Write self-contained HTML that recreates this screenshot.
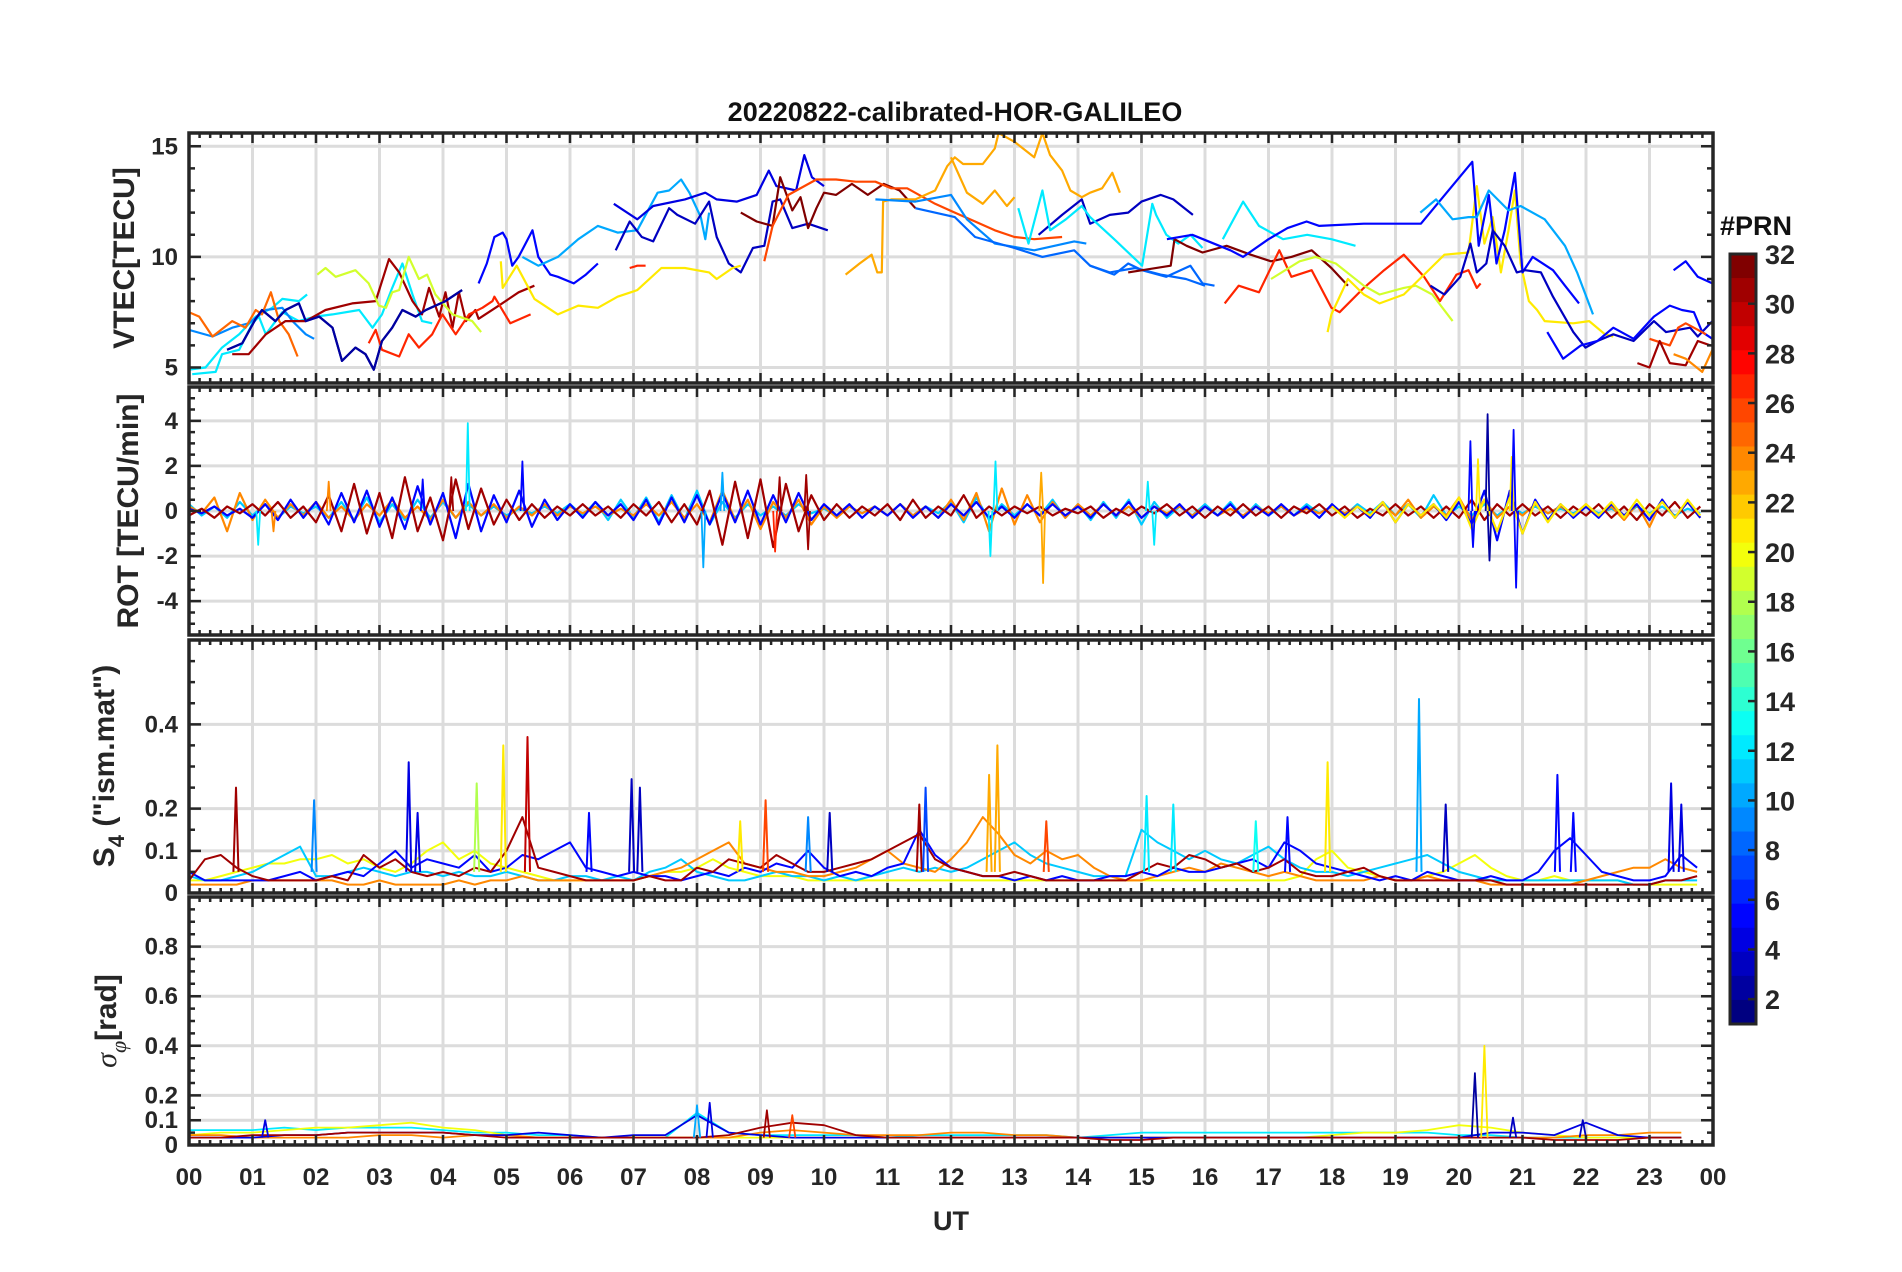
<!DOCTYPE html>
<html><head><meta charset="utf-8">
<style>
html,body{margin:0;padding:0;background:#fff;}
svg{display:block;font-family:"Liberation Sans",Arial,sans-serif;}
</style></head>
<body>
<svg id="fig" width="1902" height="1272" viewBox="0 0 1902 1272" xmlns="http://www.w3.org/2000/svg">
<rect width="1902" height="1272" fill="#fff"/>
<text x="955" y="121" text-anchor="middle" font-size="27" font-weight="bold" fill="#111">20220822-calibrated-HOR-GALILEO</text>
<g id="panels"></g>
<text transform="translate(134,258) rotate(-90)" text-anchor="middle" font-size="30" font-weight="bold" fill="#262626">VTEC[TECU]</text>
<text transform="translate(138,511) rotate(-90)" text-anchor="middle" font-size="30" font-weight="bold" fill="#262626">ROT [TECU/min]</text>
<text transform="translate(114,766) rotate(-90)" text-anchor="middle" font-size="30" font-weight="bold" fill="#262626">S<tspan font-size="22" dy="10">4</tspan><tspan dy="-10"> ("ism.mat")</tspan></text>
<text transform="translate(116,1021) rotate(-90)" text-anchor="middle" font-size="30" font-weight="bold" fill="#262626"><tspan font-family="'Liberation Serif',serif" font-style="italic" font-weight="normal">σ</tspan><tspan font-size="22" dy="10" font-family="'Liberation Serif',serif" font-style="italic" font-weight="normal">φ</tspan><tspan dy="-10">[rad]</tspan></text>
<text x="951" y="1230" text-anchor="middle" font-size="27" font-weight="bold" fill="#262626">UT</text>
<g id="cbar"></g>
</svg>
<script>
// ---------- VTEC tracks [hour, TECU] ----------
const vtecPrn = [12,12,9,25,2,31,27,19,5,10,4,3,21,27,32,26,23,23,9,8,3,12,2,12,8,32,27,19,21,5,10,3,5,5,26,31,24];
const vtecCyanA = [[0,4.9],[0.26,5.0],[0.52,5.9],[0.79,6.5],[1.05,7.3],[1.31,7.7],[1.47,8.1],[1.73,8.0],[1.86,8.3]];
const vtecCyanB = [[0.05,4.7],[0.42,4.8],[0.52,5.6],[0.79,5.8],[1.0,7.0],[1.1,7.3],[1.21,6.5],[1.47,7.5],[1.73,7.1],[1.99,7.3],[2.26,7.4],[2.68,7.6],[2.89,6.8],[3.04,7.4],[3.2,8.6],[3.36,9.7],[3.52,8.3],[3.67,7.1],[3.83,7.0]];
const vtecBlue9 = [[0,6.7],[0.37,6.4],[0.68,6.8],[0.94,7.0],[1.21,7.6],[1.47,7.7],[1.63,7.1],[1.84,6.5],[1.97,6.3]];
const vtecOrange25 = [[0,7.5],[0.16,7.3],[0.37,6.4],[0.68,7.1],[0.89,6.8],[1.05,7.6],[1.15,7.4],[1.29,8.4],[1.42,7.1],[1.57,6.5],[1.71,5.5]];
const vtecDark2 = [[0.6,5.8],[0.84,6.1],[1.05,7.2],[1.15,7.6],[1.36,7.1],[1.52,7.6],[1.73,7.9],[1.84,7.1],[2.05,7.3],[2.26,6.8],[2.41,5.3],[2.62,5.9],[2.78,5.6],[2.91,4.9],[3.04,6.2],[3.2,6.8],[3.36,7.6],[3.57,7.3],[3.73,7.6],[4.04,8.0],[4.3,8.5]];
const vtecDarkRed31 = [[0.68,5.6],[0.94,5.6],[1.21,6.5],[1.52,7.1],[1.84,7.1],[2.15,7.6],[2.57,7.9],[2.94,8.0],[3.15,9.9],[3.31,9.3],[3.52,8.0],[3.67,7.4],[3.78,8.6],[3.94,7.3],[4.04,8.4],[4.15,6.8],[4.25,8.4],[4.36,7.1],[4.51,7.6],[4.56,7.2],[4.88,7.8],[5.19,8.4],[5.44,8.7]];
const vtecRed27 = [[2.83,6.1],[2.94,6.7],[3.04,5.8],[3.31,5.5],[3.46,6.5],[3.62,5.9],[3.83,6.5],[3.99,7.4],[4.2,6.5],[4.41,7.4],[4.62,7.7],[4.78,8.0],[4.81,8.2],[5.06,7.0],[5.38,7.4]];
const vtecYG19 = [[2.02,9.2],[2.15,9.5],[2.31,9.1],[2.62,9.4],[2.83,8.8],[2.99,7.8],[3.1,7.7],[3.2,8.4],[3.31,8.5],[3.46,10.0],[3.62,9.0],[3.75,9.2],[3.88,8.3],[4.15,7.4],[4.46,7.1],[4.6,6.6]];
const vtecBlue5 = [[4.56,8.8],[4.69,9.7],[4.81,10.9],[4.94,11.1],[5.0,10.8],[5.09,9.6],[5.19,10.0],[5.41,11.2],[5.5,10.0],[5.69,9.2],[5.81,9.1],[6.06,8.8],[6.25,9.2],[6.44,9.7]];
const vtecLB10 = [[5.25,10.0],[5.5,9.6],[5.81,10.0],[6.13,10.8],[6.44,11.4],[6.75,11.1],[7.06,11.2],[7.38,12.9],[7.56,13.0],[7.75,13.5],[7.88,12.9],[8.06,11.8],[8.13,10.8],[8.19,12.0]];
const vtecBlue4 = [[6.69,12.4],[7.06,11.7],[7.31,12.3],[7.81,12.6],[8.13,12.9],[8.31,12.6],[8.63,12.5],[8.94,12.8],[9.13,13.9],[9.25,13.2],[9.56,13.0],[9.69,14.6],[9.81,13.6],[10.0,13.2]];
const vtecDark3 = [[6.72,10.3],[6.94,11.6],[7.13,10.9],[7.31,10.7],[7.56,12.2],[7.69,11.9],[7.97,11.5],[8.19,12.5],[8.31,10.9],[8.5,9.7],[8.69,9.3],[8.88,10.4],[9.06,10.5],[9.19,12.5],[9.31,12.6],[9.5,11.3],[9.75,11.5],[10.06,11.2]];
const vtecYellow21 = [[4.91,9.8],[4.94,8.6],[5.16,9.6],[5.44,8.1],[5.81,7.4],[6.13,7.8],[6.44,7.7],[6.75,8.2],[7.06,8.5],[7.44,9.5],[7.81,9.5],[8.19,9.3],[8.31,9.0],[8.56,9.5],[8.69,9.6]];
const vtecRedShort = [[6.94,9.5],[7.06,9.6],[7.19,9.6]];
const vtecDarkRed32 = [[8.69,12.0],[8.94,11.6],[9.19,11.4],[9.31,13.6],[9.5,12.1],[9.63,12.7],[9.75,11.3],[9.88,12.2],[10.0,12.9],[10.19,12.8],[10.44,13.3],[10.69,12.8],[10.94,13.3],[11.19,13.0],[11.44,12.2]];
const vtecOR26 = [[9.06,9.8],[9.19,11.4],[9.44,12.8],[9.88,13.5],[10.19,13.5],[10.5,13.4],[10.81,13.4],[11.06,13.1],[11.31,13.1],[11.75,12.4],[12.06,12.0],[12.38,11.6],[12.69,11.2],[13.0,10.9],[13.31,10.8],[13.75,10.9]];
const vtecOrange23 = [[10.34,9.2],[10.56,9.7],[10.75,10.1],[10.84,9.3],[10.91,9.3],[10.93,12.5],[11.06,12.6],[11.44,12.6],[11.75,13.0],[11.94,14.1],[12.06,14.5],[12.19,14.2],[12.5,14.2],[12.69,14.9],[12.75,15.6],[13.0,15.2],[13.31,14.5],[13.44,15.6],[13.56,14.6],[13.75,13.9],[13.88,13.0],[14.06,12.7],[14.19,12.9],[14.38,13.1],[14.54,13.8],[14.66,12.9]];
const vtecOrange23b = [[12.0,14.5],[12.25,12.9],[12.5,12.4],[12.69,13.0],[12.88,12.3],[13.0,12.7]];
const vtecLB9 = [[10.81,12.6],[11.44,12.5],[12.0,12.8],[12.25,11.7],[12.69,10.6],[13.31,10.3],[13.94,10.7],[14.13,10.6]];
const vtecB8 = [[11.44,12.2],[12.06,11.8],[12.38,10.9],[13.0,10.4],[13.44,10.0],[13.94,10.3],[14.19,9.6],[14.57,9.2],[14.79,9.7],[15.01,9.4],[15.39,9.1],[15.77,9.6],[15.96,8.8],[16.15,8.7]];
const vtecDark3b = [[13.38,11.0],[13.75,11.9],[14.06,12.6],[14.19,11.5],[14.5,11.9],[14.79,12.0],[15.0,12.5],[15.3,12.8],[15.5,12.6],[15.81,11.9]];
const vtecCyan12 = [[13.06,12.2],[13.22,10.6],[13.44,13.0],[13.56,11.2],[13.81,11.7],[14.06,12.3],[14.19,11.8],[14.57,10.8],[15.01,9.6],[15.17,12.4],[15.23,11.9],[15.39,11.0],[15.58,10.6],[15.77,11.0],[15.96,10.4]];
const vtecCyan12b = [[16.28,10.8],[16.6,12.5],[16.85,11.4],[17.23,10.8],[17.61,11.0],[17.99,10.8],[18.37,10.5]];
const vtecBlue8b = [[14.19,9.6],[14.5,9.3],[14.9,9.5],[15.3,9.2],[15.7,9.0],[16.0,8.7]];
const vtecDarkRed32b = [[14.79,9.3],[15.46,9.6],[15.52,10.8],[15.71,10.5],[15.96,10.2],[16.34,10.5],[16.72,10.1],[17.04,9.8],[17.36,10.0],[17.68,10.3],[17.99,9.5],[18.25,8.7]];
const vtecRed27b = [[16.31,7.9],[16.53,8.7],[16.85,8.4],[17.17,10.3],[17.36,9.1],[17.68,9.4],[17.99,7.7],[18.12,7.5],[18.5,8.6],[18.82,9.4],[19.13,10.1],[19.45,9.1],[19.7,8.0],[19.96,9.2],[20.15,9.4],[20.28,8.6],[20.34,8.8]];
const vtecYG19b = [[17.04,9.0],[17.49,9.8],[17.74,10.0],[18.06,9.7],[18.5,8.7],[18.75,8.3],[19.13,8.6],[19.32,8.7],[19.58,8.3],[19.9,7.1]];
const vtecYellow21b = [[17.93,6.6],[17.99,7.4],[18.25,9.0],[18.5,8.3],[18.75,7.9],[19.13,8.3],[19.45,9.2],[19.77,10.1],[20.15,10.2],[20.28,13.2],[20.4,10.6],[20.53,11.8],[20.66,9.3],[20.78,11.2],[20.88,13.0],[20.97,9.7],[21.1,8.0],[21.23,7.6],[21.35,7.1],[21.8,7.0],[22.05,7.1],[22.3,6.5],[22.43,6.4]];
const vtecLB10b = [[19.39,12.0],[19.64,12.6],[19.9,11.7],[20.15,11.8],[20.28,11.8],[20.47,13.0],[20.78,12.1],[20.97,12.3],[21.35,11.7],[21.67,10.5],[21.86,9.3],[22.11,7.4]];
const vtecDark3c = [[19.55,8.7],[19.77,8.3],[20.02,9.1],[20.18,10.6],[20.28,9.3],[20.43,9.7],[20.53,11.2],[20.72,10.5],[20.91,9.3],[21.04,9.4],[21.29,9.3],[21.48,8.2],[21.8,6.6],[21.99,5.9],[22.18,6.2],[22.43,6.5],[22.75,6.2],[23.07,7.1],[23.26,6.6],[23.64,6.8],[23.76,6.4],[23.99,7.1]];
const vtecBlue5b = [[15.4,10.8],[15.8,11.0],[16.4,10.3],[16.6,10.0],[17.0,10.8],[17.3,11.3],[17.6,11.6],[17.8,11.4],[18.5,11.5],[19.4,11.5],[20.21,14.3],[20.31,10.5],[20.47,12.8],[20.59,9.7],[20.72,11.2],[20.88,13.8],[21.0,9.3],[21.16,10.0],[21.48,9.4],[21.67,8.7],[21.89,7.9]];
const vtecBlue5c = [[23.38,9.4],[23.57,9.8],[23.76,9.1],[23.99,8.8]];
const vtecBlue6 = [[21.39,6.6],[21.64,5.4],[21.92,6.0],[22.18,6.2],[22.43,6.8],[22.75,6.3],[23.07,7.3],[23.32,7.8],[23.51,7.6],[23.7,7.5],[23.83,6.6],[23.99,6.3]];
const vtecOR26b = [[23.0,6.3],[23.32,6.0],[23.45,6.8],[23.57,7.0],[23.7,6.8],[23.89,6.5]];
const vtecDarkRed31b = [[22.81,5.2],[23.0,5.0],[23.16,6.2],[23.32,5.2],[23.57,5.1],[23.76,6.2],[23.96,6.0]];
const vtecOrange24 = [[23.38,5.6],[23.57,5.4],[23.83,4.8],[23.99,5.8]];
const vtecTracks = [vtecCyanA,vtecCyanB,vtecBlue9,vtecOrange25,vtecDark2,vtecDarkRed31,vtecRed27,vtecYG19,vtecBlue5,vtecLB10,vtecBlue4,vtecDark3,vtecYellow21,vtecRedShort,vtecDarkRed32,vtecOR26,vtecOrange23,vtecOrange23b,vtecLB9,vtecB8,vtecDark3b,vtecCyan12,vtecDark2,vtecCyan12b,vtecBlue8b,vtecDarkRed32b,vtecRed27b,vtecYG19b,vtecYellow21b,vtecBlue5b,vtecLB10b,vtecDark3c,vtecBlue5c,vtecBlue6,vtecOR26b,vtecDarkRed31b,vtecOrange24];

// ---------- ROT series (TECU/min), sampled every 0.2 h from 00 UT ----------
const rotStep = 0.2;
const rotPrn = [11,24,5,31];
const rotCyan = [0.3,-0.2,0.2,-0.3,0.4,-0.2,0.3,-0.3,0.2,-0.1, 0.2,-0.3,0.4,-0.4,0.6,-0.5,0.3,-0.4,0.5,-0.3, 0.4,-0.3,0.3,-0.2,0.2,-0.2,0.1,-0.1,0.2,-0.1, 0.3,-0.2,0.4,-0.4,0.5,-0.3,0.6,-0.5,0.7,-0.4, 0.9,-0.6,0.4,-0.3,0.3,-0.2,0.2,-0.2,0.3,-0.1, 0.1,-0.2,0.2,-0.1,0.2,-0.2,0.3,-0.2,0.2,-0.1, 0.4,-0.5,0.6,-0.4,0.3,-0.2,0.3,-0.2,0.5,-0.3, 0.3,-0.4,0.4,-0.3,0.5,-0.6,0.4,-0.3,0.2,-0.2, 0.3,-0.2,0.4,-0.3,0.3,-0.2,0.2,-0.2,0.3,-0.1, 0.2,-0.2,0.3,-0.1,0.4,-0.2,0.3,-0.3,0.7,-0.2, 0.2,-0.2,0.3,-0.2,0.2,-0.1,0.2,-0.1,0.1,-0.1, 0.2,-0.1,0.1,-0.2,0.2,-0.1,0.2,-0.2,0.1,-0.1];
const rotOrange = [0.2,-0.1,0.6,-0.9,0.8,-0.4,0.5,-0.3,0.3,-0.2, 0.4,-0.3,0.2,-0.4,0.3,-0.2,0.5,-0.3,0.2,-0.4, 0.5,-0.3,0.4,-0.2,0.3,-0.3,0.2,-0.2,0.3,-0.2, 0.2,-0.1,0.2,-0.2,0.1,-0.2,0.3,-0.2,0.4,-0.3, 0.3,-0.5,0.9,-0.4,0.5,-0.8,0.4,-0.3,0.5,-0.6, 0.2,-0.3,0.2,-0.1,0.2,-0.2,0.3,-0.2,0.2,-0.3, 0.5,-0.4,0.8,-0.9,1.0,-0.6,0.7,-0.5,0.4,-0.3, 0.3,-0.2,0.3,-0.2,0.2,-0.3,0.2,-0.1,0.2,-0.2, 0.2,-0.2,0.1,-0.2,0.2,-0.1,0.2,-0.2,0.1,-0.1, 0.2,-0.1,0.2,-0.2,0.3,-0.2,0.5,-0.3,0.2,-0.2, 0.6,-0.4,0.5,-0.3,0.2,-0.2,0.3,-0.1,0.2,-0.2, 0.3,-0.2,0.2,-0.4,0.3,-0.7,0.5,-0.3,0.4,-0.3];
const rotBlue = [0.1,-0.1,0.2,-0.2,0.1,-0.3,0.3,-0.4,0.5,-0.3, 0.4,-0.6,0.8,-0.5,0.9,-0.7,0.6,-0.8,1.1,-0.6, 0.8,-1.2,1.2,-0.9,0.7,-0.5,0.9,-0.7,0.5,-0.4, 0.3,-0.3,0.4,-0.2,0.3,-0.4,0.5,-0.6,0.6,-0.5, 0.7,-0.6,0.8,-0.5,0.9,-0.6,0.7,-0.5,0.8,-0.4, 0.3,-0.2,0.3,-0.3,0.2,-0.2,0.3,-0.3,0.2,-0.3, 0.3,-0.2,0.4,-0.3,0.2,-0.3,0.3,-0.2,0.3,-0.2, 0.2,-0.3,0.3,-0.2,0.4,-0.3,0.2,-0.2,0.3,-0.3, 0.2,-0.2,0.3,-0.3,0.2,-0.2,0.3,-0.2,0.2,-0.3, 0.3,-0.2,0.2,-0.3,0.4,-0.5,0.3,-0.2,0.3,-0.4, 0.4,-0.6,0.9,-1.3,0.9,-1.0,0.5,-0.4,0.3,-0.3, 0.2,-0.3,0.3,-0.2,0.3,-0.4,0.5,-0.3,0.4,-0.3];
const rotDarkRed = [-0.2,0.1,-0.3,0.2,-0.1,0.3,-0.2,0.4,-0.3,0.2, -0.5,0.7,-0.9,1.2,-1.0,0.8,-1.2,1.5,-0.9,0.6, -1.3,1.4,-0.8,1.0,-0.6,0.5,-0.4,0.3,-0.3,0.2, -0.2,0.3,-0.2,0.2,-0.3,0.3,-0.2,0.4,-0.5,0.3, -0.6,0.9,-1.5,1.3,-1.2,1.4,-1.6,1.2,-0.9,0.7, -0.4,0.3,-0.3,0.2,-0.2,0.3,-0.4,0.5,-0.3,0.2, -0.2,0.7,-0.3,0.2,-0.2,0.2,-0.1,0.2,-0.2,0.1, -0.1,0.2,-0.3,0.1,-0.2,0.2,-0.1,0.3,-0.2,0.2, -0.3,0.2,-0.2,0.3,-0.2,0.2,-0.3,0.2,-0.1,0.3, -0.2,0.2,-0.3,0.1,-0.2,0.3,-0.2,0.2,-0.3,0.2, -0.3,0.5,-0.4,0.3,-0.2,0.3,-0.2,0.2,-0.3,0.2, -0.2,0.3,-0.3,0.2,-0.4,0.3,-0.2,0.4,-0.3,0.2];
const rotYellowStart = 18;
const rotYellow = [0.2,-0.3,0.2,-0.2,0.4,-0.5,0.3,-0.2,0.3,-0.3, 0.6,-0.8,0.5,-0.9,0.6,-1.0,0.4,-0.5,0.3,-0.2, 0.3,-0.2,0.4,-0.3,0.5,-0.2,0.4,-0.3,0.5,-0.2];
const rotSpikeHours = [1.09,1.33,2.2,3.68,4.13,4.39,5.25,8.1,8.4,9.23,9.3,9.72,9.75,12.62,12.7,13.42,13.45,15.1,15.2,20.18,20.22,20.3,20.45,20.48,20.83,20.86,20.9];
const rotSpikeValues = [-1.5,-0.9,1.3,1.4,1.5,3.9,2.2,-2.5,1.7,-1.8,1.5,1.6,-1.7,-2.0,2.2,1.7,-3.2,1.3,-1.5,3.1,-1.6,2.3,4.3,-2.2,2.4,3.6,-3.4];
const rotSpikePrn = [12,24,24,5,31,12,5,10,10,27,31,31,31,12,12,23,23,12,12,5,5,21,2,2,21,5,5];

// ---------- S4 series, sampled every 0.25 h ----------
const s4Step = 0.25;
const s4Prn = [20,11,24,5,31];
const s4Yellow = [0.03,0.03,0.04,0.05,0.06,0.07,0.07,0.08, 0.08,0.09,0.07,0.08,0.06,0.05,0.07,0.10, 0.12,0.08,0.10,0.07,0.06,0.05,0.04,0.03, 0.03,0.03,0.03,0.03,0.03,0.04,0.05,0.05, 0.06,0.08,0.06,0.05,0.04,0.04,0.04,0.03, 0.03,0.03,0.03,0.03,0.03,0.03,0.03,0.03, 0.03,0.03,0.03,0.03,0.03,0.03,0.03,0.03, 0.03,0.03,0.03,0.03,0.03,0.03,0.03,0.03, 0.03,0.03,0.03,0.03,0.03,0.03,0.04,0.08, 0.10,0.06,0.05,0.04,0.03,0.03,0.04,0.05, 0.07,0.09,0.06,0.04,0.03,0.03,0.04,0.03, 0.03,0.03,0.03,0.02,0.02,0.02,0.02,0.02];
const s4Cyan = [0.04,0.03,0.03,0.04,0.05,0.07,0.09,0.11, 0.04,0.04,0.05,0.06,0.05,0.04,0.05,0.05, 0.04,0.05,0.04,0.04,0.05,0.04,0.03,0.03, 0.04,0.04,0.03,0.04,0.03,0.05,0.06,0.08, 0.05,0.04,0.03,0.03,0.04,0.05,0.04,0.04, 0.03,0.04,0.03,0.04,0.05,0.06,0.05,0.06, 0.05,0.06,0.08,0.10,0.12,0.09,0.07,0.06, 0.05,0.04,0.04,0.04,0.15,0.12,0.10,0.08, 0.10,0.08,0.07,0.09,0.11,0.08,0.06,0.05, 0.05,0.04,0.05,0.06,0.07,0.08,0.09,0.07, 0.05,0.04,0.03,0.03,0.03,0.03,0.03,0.03, 0.03,0.03,0.03,0.02,0.02,0.03,0.03,0.03];
const s4Orange = [0.02,0.02,0.02,0.02,0.03,0.03,0.03,0.03, 0.03,0.03,0.02,0.02,0.03,0.02,0.02,0.02, 0.02,0.03,0.02,0.03,0.03,0.04,0.03,0.03, 0.03,0.03,0.03,0.03,0.03,0.04,0.05,0.06, 0.08,0.10,0.12,0.07,0.06,0.05,0.05,0.04, 0.04,0.05,0.06,0.08,0.10,0.07,0.06,0.05, 0.08,0.12,0.18,0.14,0.09,0.07,0.10,0.08, 0.09,0.06,0.04,0.03,0.03,0.04,0.05,0.06, 0.05,0.07,0.06,0.05,0.04,0.05,0.04,0.03, 0.03,0.03,0.03,0.04,0.03,0.03,0.04,0.03, 0.03,0.03,0.02,0.02,0.02,0.02,0.02,0.02, 0.03,0.04,0.05,0.06,0.06,0.08,0.06,0.05];
const s4Blue = [0.05,0.03,0.03,0.03,0.03,0.03,0.04,0.05, 0.03,0.04,0.05,0.04,0.07,0.10,0.06,0.08, 0.07,0.06,0.09,0.05,0.06,0.09,0.08,0.10, 0.12,0.06,0.05,0.04,0.05,0.04,0.04,0.03, 0.04,0.05,0.04,0.06,0.05,0.07,0.06,0.10, 0.06,0.04,0.05,0.04,0.06,0.07,0.15,0.09, 0.06,0.05,0.04,0.04,0.03,0.04,0.03,0.04, 0.03,0.03,0.04,0.04,0.05,0.04,0.06,0.05, 0.05,0.06,0.07,0.08,0.06,0.12,0.10,0.07, 0.06,0.05,0.04,0.03,0.04,0.03,0.05,0.04, 0.03,0.03,0.04,0.03,0.03,0.05,0.10,0.13, 0.09,0.05,0.04,0.03,0.03,0.04,0.09,0.06];
const s4DarkRed = [0.03,0.08,0.09,0.06,0.04,0.03,0.03,0.03, 0.03,0.04,0.03,0.09,0.06,0.08,0.05,0.04, 0.05,0.04,0.06,0.05,0.10,0.18,0.06,0.05, 0.04,0.03,0.03,0.03,0.03,0.04,0.03,0.03, 0.06,0.05,0.08,0.07,0.06,0.09,0.07,0.05, 0.05,0.06,0.07,0.08,0.10,0.12,0.14,0.08, 0.06,0.05,0.04,0.04,0.05,0.04,0.03,0.03, 0.03,0.03,0.03,0.03,0.05,0.07,0.06,0.09, 0.08,0.06,0.07,0.05,0.06,0.08,0.05,0.04, 0.04,0.05,0.06,0.04,0.03,0.03,0.03,0.03, 0.03,0.03,0.03,0.02,0.02,0.02,0.02,0.02, 0.02,0.02,0.02,0.02,0.02,0.03,0.03,0.04];
const s4SpikeHours = [0.74,1.97,3.46,3.6,4.53,4.95,5.33,6.3,6.97,7.1,8.68,9.08,9.75,10.09,11.5,11.6,12.6,12.73,13.5,15.08,15.5,16.8,17.3,17.93,19.37,19.79,21.55,21.8,23.34,23.5];
const s4SpikeValues = [0.25,0.22,0.31,0.19,0.26,0.35,0.37,0.19,0.27,0.25,0.17,0.22,0.18,0.19,0.21,0.25,0.28,0.35,0.17,0.23,0.21,0.17,0.18,0.31,0.46,0.21,0.28,0.19,0.26,0.21];
const s4SpikePrn = [31,9,4,4,18,21,30,5,3,3,21,26,9,3,31,7,23,23,26,12,12,13,5,21,10,3,5,5,4,4];

// ---------- sigma-phi series, sampled every 0.5 h ----------
const sigStep = 0.5;
const sigPrn = [12,20,24,4,31];
const sigCyan = [0.06,0.06,0.06,0.07,0.06,0.07,0.07,0.07,0.06,0.05,0.05,0.04,0.04,0.03,0.03,0.03,0.13,0.05,0.04,0.04,0.04,0.04,0.03,0.04,0.04,0.04,0.04,0.04,0.03,0.04,0.05,0.05,0.05,0.05,0.05,0.05,0.05,0.05,0.05,0.05,0.04,0.04,0.03,0.03,0.03,0.03,0.03,0.03];
const sigYellow = [0.04,0.05,0.05,0.06,0.07,0.07,0.08,0.09,0.07,0.06,0.04,0.03,0.03,0.03,0.03,0.03,0.03,0.03,0.03,0.03,0.03,0.03,0.03,0.03,0.03,0.03,0.03,0.03,0.03,0.03,0.03,0.03,0.03,0.03,0.03,0.03,0.04,0.05,0.05,0.06,0.08,0.07,0.05,0.04,0.03,0.03,0.03,0.03];
const sigOrange = [0.04,0.04,0.03,0.03,0.03,0.03,0.04,0.04,0.03,0.04,0.04,0.03,0.03,0.03,0.03,0.03,0.03,0.03,0.05,0.06,0.05,0.04,0.04,0.04,0.05,0.05,0.04,0.04,0.03,0.03,0.03,0.03,0.03,0.03,0.03,0.03,0.03,0.03,0.03,0.03,0.03,0.03,0.03,0.03,0.04,0.04,0.05,0.05];
const sigBlue = [0.03,0.03,0.03,0.04,0.04,0.05,0.05,0.05,0.05,0.04,0.04,0.05,0.04,0.03,0.04,0.04,0.12,0.05,0.04,0.03,0.03,0.03,0.03,0.03,0.03,0.03,0.03,0.03,0.03,0.03,0.03,0.03,0.03,0.03,0.03,0.03,0.03,0.03,0.03,0.03,0.03,0.05,0.05,0.04,0.09,0.04,0.03,0.03];
const sigDarkRed = [0.03,0.03,0.04,0.04,0.04,0.05,0.05,0.05,0.05,0.04,0.03,0.03,0.03,0.03,0.03,0.03,0.03,0.04,0.07,0.09,0.08,0.04,0.03,0.03,0.03,0.03,0.03,0.03,0.03,0.02,0.02,0.03,0.03,0.03,0.03,0.03,0.03,0.03,0.03,0.03,0.03,0.03,0.03,0.02,0.02,0.02,0.03,0.03];
const sigSpikeHours = [1.2,8.0,8.2,9.1,9.5,20.25,20.4,20.85,21.95];
const sigSpikeValues = [0.10,0.16,0.17,0.14,0.12,0.29,0.40,0.11,0.10];
const sigSpikePrn = [4,10,4,31,26,2,21,3,3];

// ---------- axes / tick labels ----------
const hourLabels = ['00','01','02','03','04','05','06','07','08','09','10','11','12','13','14','15','16','17','18','19','20','21','22','23','00'];
const vtecTicks = [5,10,15];
const rotTicks = [-4,-2,0,2,4];
const s4Ticks = [0,0.1,0.2,0.4];
const sigTicks = [0,0.1,0.2,0.4,0.6,0.8];
const prnTicks = [2,4,6,8,10,12,14,16,18,20,22,24,26,28,30,32];

const NS='http://www.w3.org/2000/svg';
const X0=189, X1=1713;
const xs = h => X0 + (h/24)*(X1-X0);
function jet(prn){
  const t=(prn-1)/31;
  const c=v=>Math.round(255*Math.max(0,Math.min(1,v)));
  return 'rgb('+c(1.5-Math.abs(4*t-3))+','+c(1.5-Math.abs(4*t-2))+','+c(1.5-Math.abs(4*t-1))+')';
}
function el(tag,attrs,parent){const e=document.createElementNS(NS,tag);for(const k in attrs)e.setAttribute(k,attrs[k]);parent.appendChild(e);return e;}

const panels=[
 {name:'vtec',top:133,bot:383,min:4.3,max:15.6,ticks:vtecTicks,minor:1,fmt:v=>String(v)},
 {name:'rot',top:387,bot:635,min:-5.5,max:5.5,ticks:rotTicks,minor:0.5,fmt:v=>String(v)},
 {name:'s4',top:640,bot:893,min:0,max:0.6,ticks:s4Ticks,minor:0.05,fmt:v=>v===0?'0':String(v)},
 {name:'sigma',top:897,bot:1145,min:0,max:1,ticks:sigTicks,minor:0.05,fmt:v=>v===0?'0':String(v)}
];
const root=document.getElementById('panels');
const defs=el('defs',{},root);
panels.forEach(p=>{
  p.ys=v=>p.bot-(v-p.min)/(p.max-p.min)*(p.bot-p.top);
  const cp=el('clipPath',{id:'clip-'+p.name},defs);
  el('rect',{x:X0,y:p.top,width:X1-X0,height:p.bot-p.top},cp);
  const g=el('g',{},root);
  
  
  p.g=g;
  for(let h=1;h<24;h++){
    const l=el('line',{x1:xs(h),x2:xs(h),y1:p.top,y2:p.bot,stroke:'#dcdcdc','stroke-width':3},g);
    
    
  }
  p.ticks.forEach(v=>{
    const l=el('line',{x1:X0,x2:X1,y1:p.ys(v),y2:p.ys(v),stroke:'#dcdcdc','stroke-width':3},g);
    
    
  });
  p.data=el('g',{'clip-path':'url(#clip-'+p.name+')'},g);
  
  
});

function polyline(p,pts,prn,w,name){
  const d=pts.map(q=>xs(q[0]).toFixed(1)+','+p.ys(q[1]).toFixed(1)).join(' ');
  const l=el('polyline',{points:d,fill:'none',stroke:jet(prn),'stroke-width':w,'stroke-linejoin':'round'},p.data);
  
  
}
function seriesPts(vals,start,step){return vals.map((v,i)=>[start+i*step,v]);}

vtecTracks.forEach((t,i)=>polyline(panels[0],t,vtecPrn[i],2.2,'vtec-track-prn'+vtecPrn[i]));
[rotCyan,rotOrange,rotBlue,rotDarkRed].forEach((s,i)=>polyline(panels[1],seriesPts(s,0,rotStep),rotPrn[i],2.2,'rot-series-prn'+rotPrn[i]));
polyline(panels[1],seriesPts(rotYellow,rotYellowStart,rotStep),21,2.2,'rot-series-prn21');
rotSpikeHours.forEach((h,i)=>polyline(panels[1],[[h-0.03,0],[h,rotSpikeValues[i]],[h+0.03,0]],rotSpikePrn[i],1.8,'rot-spike'));
[s4Yellow,s4Cyan,s4Orange,s4Blue,s4DarkRed].forEach((s,i)=>polyline(panels[2],seriesPts(s,0,s4Step),s4Prn[i],2.0,'s4-series-prn'+s4Prn[i]));
s4SpikeHours.forEach((h,i)=>polyline(panels[2],[[h-0.04,0.05],[h,s4SpikeValues[i]],[h+0.04,0.05]],s4SpikePrn[i],2.0,'s4-spike'));
[sigCyan,sigYellow,sigOrange,sigBlue,sigDarkRed].forEach((s,i)=>polyline(panels[3],seriesPts(s,0,sigStep),sigPrn[i],1.8,'sigma-series-prn'+sigPrn[i]));
sigSpikeHours.forEach((h,i)=>polyline(panels[3],[[h-0.05,0.03],[h,sigSpikeValues[i]],[h+0.05,0.03]],sigSpikePrn[i],1.8,'sigma-spike'));

const ink='#262626';
panels.forEach(p=>{
  const g=p.g;
  let d='';
  for(let m=0;m<=144;m++){
    const x=xs(m/6), L=(m%6===0)?10:5;
    d+='M'+x+','+p.top+'v'+L+'M'+x+','+p.bot+'v'+(-L);
  }
  const first=Math.ceil(p.min/p.minor-1e-9);
  for(let k=first;k*p.minor<=p.max+1e-9;k++){
    const v=k*p.minor, y=p.ys(v);
    d+='M'+X0+','+y+'h6M'+X1+','+y+'h-6';
  }
  p.ticks.forEach(v=>{const y=p.ys(v);d+='M'+X0+','+y+'h12M'+X1+','+y+'h-12';});
  const t=el('path',{d:d,stroke:ink,'stroke-width':2.5,fill:'none'},g);
  
  
  const f=el('rect',{x:X0,y:p.top,width:X1-X0,height:p.bot-p.top,fill:'none',stroke:ink,'stroke-width':3.5},g);
  
  
  p.ticks.forEach(v=>{
    const tx=el('text',{x:178,y:p.ys(v)+8,'text-anchor':'end','font-size':24,'font-weight':'bold',fill:ink},g);
    tx.textContent=p.fmt(v);
    
    
  });
});
hourLabels.forEach((s,i)=>{
  const tx=el('text',{x:xs(i),y:1185,'text-anchor':'middle','font-size':24,'font-weight':'bold',fill:ink},root);
  tx.textContent=s;
  
  
});

const cb=document.getElementById('cbar');


const CT=254, CB=1024, CX=1730, CW=26;
const cy=v=>CT+(32-v)/31*(CB-CT);
for(let k=0;k<32;k++){
  const y0=CT+k*(CB-CT)/32;
  const r=el('rect',{x:CX,y:y0,width:CW,height:(CB-CT)/32+0.6,fill:jet(32-k)},cb);
  
  
}
const cf=el('rect',{x:CX,y:CT,width:CW,height:CB-CT,fill:'none',stroke:ink,'stroke-width':3},cb);


prnTicks.forEach(v=>{
  const y=cy(v);
  const l=el('line',{x1:CX+CW-8,x2:CX+CW,y1:y,y2:y,stroke:ink,'stroke-width':2.5},cb);
  
  
  const tx=el('text',{x:1765,y:y+10,'font-size':27,'font-weight':'bold',fill:ink},cb);
  tx.textContent=String(v);
  
  
});
const ct=el('text',{x:1720,y:235,'font-size':27,'font-weight':'bold',fill:'#111'},cb);
ct.textContent='#PRN';


</script>
</body></html>
